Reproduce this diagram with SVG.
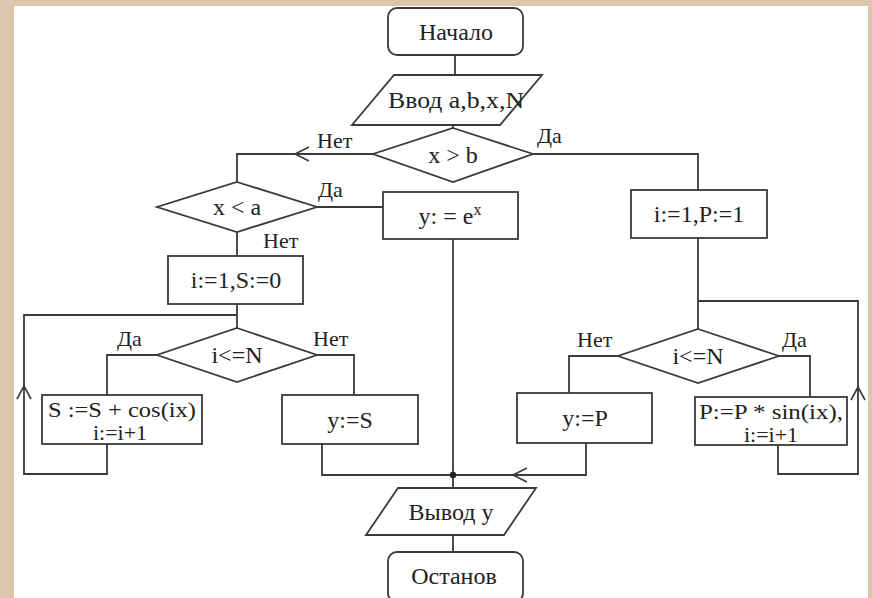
<svg xmlns="http://www.w3.org/2000/svg" width="872" height="598" viewBox="0 0 872 598">
<style>
.bg{fill:#dcc7ae}
.panel{fill:#ffffff}
.shape{fill:#ffffff;stroke:#3a3a3a;stroke-width:1.8}
.line{fill:none;stroke:#3a3a3a;stroke-width:1.8}
.arr{fill:none;stroke:#3a3a3a;stroke-width:1.6}
text{font-family:"Liberation Serif","Times New Roman",serif;font-size:24px;fill:#222}
.c{text-anchor:middle;dominant-baseline:central}
.lbl{font-size:22px}
.two{font-size:21px;text-anchor:middle}
.two2{font-size:22px;text-anchor:middle}
</style>
<rect class="bg" x="0" y="0" width="872" height="598"/>
<rect class="panel" x="14" y="6" width="854" height="592"/>

<g id="connectors">
  <polyline class="line" points="455,55 455,75"/>
  <polyline class="line" points="453,125 453,128"/>
  <polyline class="line" points="373,154 237,154 237,182"/>
  <polyline class="line" points="533,154 698,154 698,190"/>
  <polyline class="line" points="317,207 383,207"/>
  <polyline class="line" points="453,239 453,475"/>
  <polyline class="line" points="237,232 237,256"/>
  <polyline class="line" points="237,304 237,328"/>
  <polyline class="line" points="107,444 107,474 24,474 24,315 237,315"/>
  <polyline class="line" points="157,355 107,355 107,395"/>
  <polyline class="line" points="317,355 354,355 354,395"/>
  <polyline class="line" points="322,444 322,475 453,475"/>
  <polyline class="line" points="698,238 698,329"/>
  <polyline class="line" points="778,445 778,474 858,474 858,301 698,301"/>
  <polyline class="line" points="618,356 569,356 569,393"/>
  <polyline class="line" points="779,356 810,356 810,397"/>
  <polyline class="line" points="586,443 586,475 453,475"/>
  <polyline class="line" points="453,475 453,488"/>
  <polyline class="line" points="453,535 453,552"/>
  <polyline class="arr" points="309,147 295,154 309,161"/>
  <polyline class="arr" points="527,468 513,475 527,482"/>
  <polyline class="arr" points="17,399 24,386 31,399"/>
  <polyline class="arr" points="851,400 858,387 865,400"/>
  <circle cx="453" cy="475" r="3.2" fill="#222"/>
  <text class="lbl" x="317" y="148">Нет</text>
  <text class="lbl" x="537" y="143">Да</text>
  <text class="lbl" x="318" y="197">Да</text>
  <text class="lbl" x="263" y="248">Нет</text>
  <text class="lbl" x="117" y="346">Да</text>
  <text class="lbl" x="313" y="346">Нет</text>
  <text class="lbl" x="577" y="347">Нет</text>
  <text class="lbl" x="782" y="347">Да</text>
</g>

<g id="start">
  <rect class="shape" x="388" y="8" width="135" height="47" rx="9"/>
  <text class="c" x="456" y="32">Начало</text>
</g>
<g id="input">
  <polygon class="shape" points="394,75 542,75 500,125 352,125"/>
  <text class="c" x="456" y="100" textLength="136" lengthAdjust="spacingAndGlyphs">Ввод a,b,x,N</text>
</g>
<g id="cond_xb">
  <polygon class="shape" points="453,128 533,154 453,182 373,154"/>
  <text class="c" x="453" y="155">x &gt; b</text>
</g>
<g id="cond_xa">
  <polygon class="shape" points="237,182 317,207 237,232 157,207"/>
  <text class="c" x="237" y="207">x &lt; a</text>
</g>
<g id="y_exp">
  <rect class="shape" x="383" y="192" width="135" height="47"/>
  <text class="c" x="450" y="216">y: = e<tspan font-size="16" dy="-7">x</tspan></text>
</g>
<g id="init_p">
  <rect class="shape" x="631" y="190" width="136" height="48"/>
  <text class="c" x="699" y="214">i:=1,P:=1</text>
</g>
<g id="init_s">
  <rect class="shape" x="168" y="256" width="135" height="48"/>
  <text class="c" x="236" y="280">i:=1,S:=0</text>
</g>
<g id="cond_left">
  <polygon class="shape" points="237,328 317,355 237,382 157,355"/>
  <text class="c" x="237" y="355">i&lt;=N</text>
</g>
<g id="cond_right">
  <polygon class="shape" points="698,329 779,356 698,383 618,356"/>
  <text class="c" x="698" y="356">i&lt;=N</text>
</g>
<g id="sum">
  <rect class="shape" x="42" y="395" width="160" height="49"/>
  <text class="two" x="122" y="417" textLength="148" lengthAdjust="spacingAndGlyphs">S :=S + cos(ix)</text>
  <text class="two2" x="120" y="440">i:=i+1</text>
</g>
<g id="y_s">
  <rect class="shape" x="282" y="395" width="136" height="49"/>
  <text class="c" x="350" y="420">y:=S</text>
</g>
<g id="y_p">
  <rect class="shape" x="517" y="393" width="135" height="50"/>
  <text class="c" x="585" y="418">y:=P</text>
</g>
<g id="prod">
  <rect class="shape" x="695" y="397" width="152" height="48"/>
  <text class="two" x="771" y="419" textLength="144" lengthAdjust="spacingAndGlyphs">P:=P * sin(ix),</text>
  <text class="two2" x="771" y="442">i:=i+1</text>
</g>
<g id="output">
  <polygon class="shape" points="398,488 536,488 504,535 366,535"/>
  <text class="c" x="451" y="512">Вывод y</text>
</g>
<g id="stop">
  <rect class="shape" x="388" y="552" width="135" height="50" rx="9"/>
  <text class="c" x="454" y="576">Останов</text>
</g>
</svg>
